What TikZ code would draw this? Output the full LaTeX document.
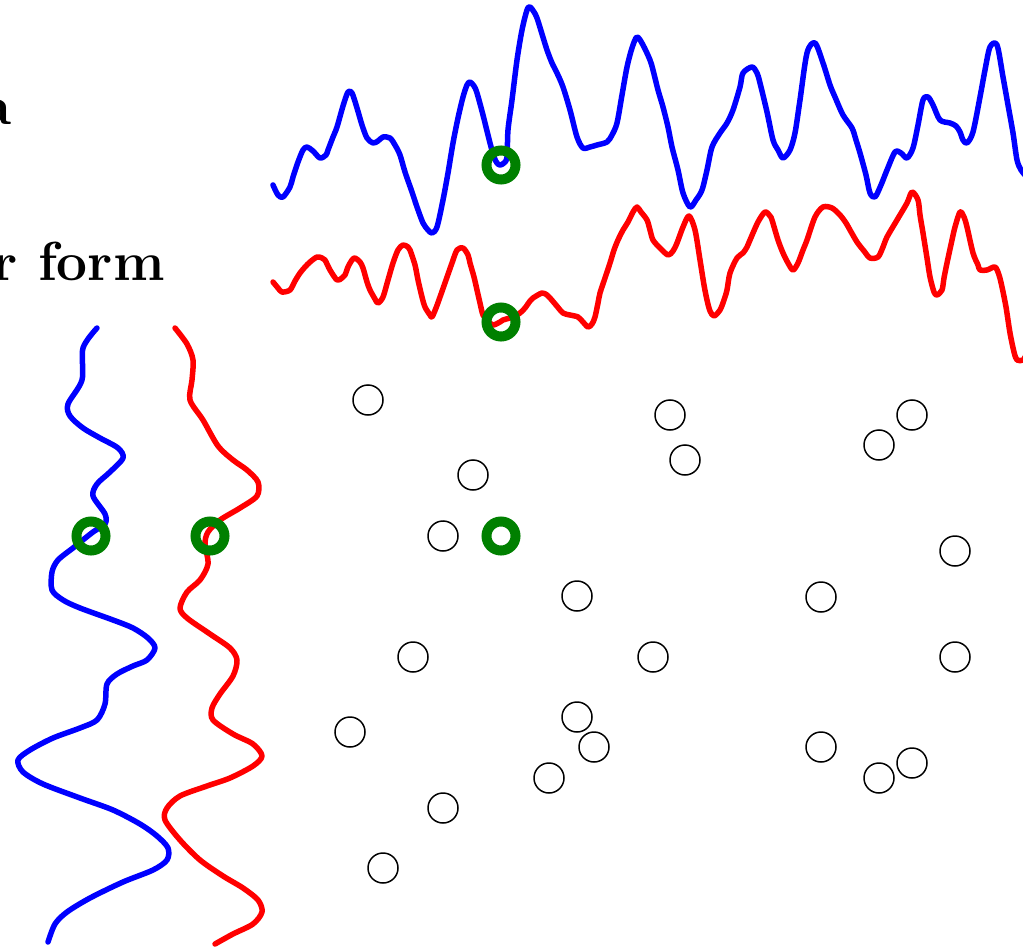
\documentclass[tikz,border=0pt]{standalone}
\definecolor{ringgreen}{RGB}{0,128,0}
\begin{document}
\begin{tikzpicture}[x=1pt,y=-1pt,
  sig/.style={line width=5.5pt,line cap=round,line join=round},
  sigblue/.style={sig,draw={rgb,255:red,0;green,0;blue,255}},
  sigred/.style={sig,draw={rgb,255:red,255;green,0;blue,0}},
  ring/.style={circle,draw=ringgreen,line width=10pt,minimum size=29pt,inner sep=0pt},
  dot/.style={circle,draw=black,line width=1.5pt,minimum size=30pt,inner sep=0pt},
  lbl/.style={anchor=base east,inner sep=0pt,font=\fontsize{55}{60}\selectfont\bfseries}]
\useasboundingbox (0,0) rectangle (1023,947);

% text (cropped at left edge)
\node[lbl] (t1) at (12,125) {a};
\node[lbl] (t2) at (165,280) {r form};

% top blue signal
\draw[sigblue] plot[smooth,tension=0.5] coordinates {
(273,185)(278,195)(283,197)(290,187)(293,177)(298,162)(303,150)(307,147)(313,151)(320,158)(326,155)(328,150)(333,137)(337,127)(343,106)(348,92)(352,93)(357,108)(362,125)(367,138)(373,143)(378,141)(383,137)(390,138)(395,145)(400,155)(405,172)(412,192)(417,207)(423,223)(428,230)(432,233)(437,227)(443,200)(448,173)(453,143)(458,118)(463,97)(467,85)(470,82)(474,86)(477,93)(483,115)(490,143)(494,157)(497,163)(500,165)(504,163)(507,157)(508,130)(512,100)(517,60)(522,30)(527,10)(530,7)(534,12)(537,18)(542,34)(547,50)(552,63)(557,73)(563,87)(570,110)(577,137)(583,148)(590,147)(597,145)(607,142)(612,135)(617,123)(622,95)(627,67)(632,48)(637,37)(643,45)(650,60)(653,70)(658,90)(663,107)(668,127)(672,147)(678,170)(683,193)(690,207)(696,200)(702,190)(707,170)(712,147)(720,133)(727,123)(733,110)(740,87)(743,73)(752,67)(757,73)(760,83)(767,112)(773,140)(778,150)(783,158)(790,150)(795,133)(800,100)(807,53)(815,43)(823,63)(830,85)(835,97)(843,115)(852,128)(856,140)(860,153)(866,175)(870,193)(875,197)(881,185)(887,170)(895,152)(901,153)(907,158)(913,148)(918,125)(923,100)(928,97)(933,105)(940,120)(950,123)(956,126)(960,132)(963,140)(967,143)(973,132)(980,97)(985,70)(990,47)(997,45)(1003,77)(1008,105)(1013,133)(1017,160)(1021,170)(1025,175)};

% top red signal
\draw[sigred] plot[smooth,tension=0.5] coordinates {
(273,282)(278,288)(282,292)(290,290)(295,281)(300,273)(305,267)(310,262)(317,257)(322,258)(325,260)(330,270)(337,280)(342,278)(345,275)(348,267)(352,260)(355,258)(360,262)(363,268)(367,282)(370,290)(375,299)(378,303)(383,297)(388,280)(393,263)(398,250)(403,245)(408,247)(410,250)(415,265)(418,280)(422,297)(425,307)(430,315)(432,317)(436,308)(440,297)(446,280)(452,263)(457,250)(463,248)(468,255)(470,263)(474,277)(477,290)(480,303)(483,315)(488,321)(493,325)(500,322)(503,320)(513,317)(520,313)(525,308)(530,301)(533,298)(542,293)(547,295)(550,298)(556,305)(563,313)(570,315)(578,317)(583,322)(588,327)(592,324)(595,317)(598,303)(600,293)(605,278)(610,263)(614,250)(618,240)(623,230)(628,222)(633,212)(637,207)(641,212)(647,220)(650,230)(653,240)(660,248)(668,255)(673,251)(677,243)(683,227)(689,216)(695,230)(700,260)(704,285)(707,300)(710,311)(714,316)(720,310)(724,300)(727,290)(730,273)(737,258)(743,253)(747,247)(750,240)(758,222)(765,212)(770,216)(772,220)(778,240)(783,253)(788,263)(793,270)(798,263)(803,250)(807,240)(815,217)(823,207)(832,208)(840,215)(846,223)(850,230)(857,242)(864,251)(870,258)(878,257)(883,247)(887,237)(897,220)(907,203)(912,192)(918,200)(920,215)(923,233)(927,258)(930,277)(934,292)(937,295)(942,290)(944,278)(947,263)(952,240)(955,227)(960,212)(964,217)(967,227)(973,253)(978,265)(980,270)(987,270)(995,267)(999,275)(1002,287)(1006,307)(1010,333)(1014,352)(1017,360)(1023,360)(1026,355)};

% left blue signal (vertical)
\draw[sigblue] plot[smooth,tension=0.5] coordinates {
(97,328)(83,348)(82,380)(68,404)(70,416)(83,428)(100,438)(118,448)(123,458)(110,472)(97,484)(93,496)(105,514)(105,524)(93,532)(73,548)(58,560)(52,572)(52,590)(63,600)(80,608)(113,620)(133,628)(148,638)(155,648)(147,660)(133,666)(117,674)(107,684)(105,704)(97,720)(80,728)(53,738)(30,750)(18,760)(23,772)(43,784)(80,798)(113,810)(140,824)(157,836)(168,848)(167,860)(153,870)(123,882)(90,898)(67,912)(55,924)(48,942)};

% left red signal (vertical)
\draw[sigred] plot[smooth,tension=0.5] coordinates {
(175,328)(187,344)(193,360)(192,380)(190,400)(203,420)(218,446)(233,460)(247,470)(258,482)(257,496)(240,508)(220,520)(208,532)(205,544)(208,564)(200,580)(187,592)(180,608)(187,618)(210,634)(230,648)(237,660)(233,676)(220,694)(212,708)(213,720)(233,734)(253,744)(262,756)(253,766)(230,778)(207,786)(180,796)(167,808)(165,820)(180,840)(200,860)(223,876)(243,888)(258,900)(262,912)(253,924)(233,934)(215,944)};

% green rings
\node[ring] (g1) at (501,165) {};
\node[ring] (g2) at (501,322) {};
\node[ring] (g3) at (91,536) {};
\node[ring] (g4) at (210,536) {};
\node[ring] (g5) at (501,536) {};

% black circles
\foreach \px/\py [count=\i] in {368/400,473/475,443/536,670/415,685/460,912/415,879/445,955/551,821/597,955/657,577/596,413/657,653/657,350/732,577/717,594/747,549/778,443/808,383/868,821/747,879/778,912/763}
  \node[dot] (c\i) at (\px,\py) {};
\end{tikzpicture}
\end{document}
